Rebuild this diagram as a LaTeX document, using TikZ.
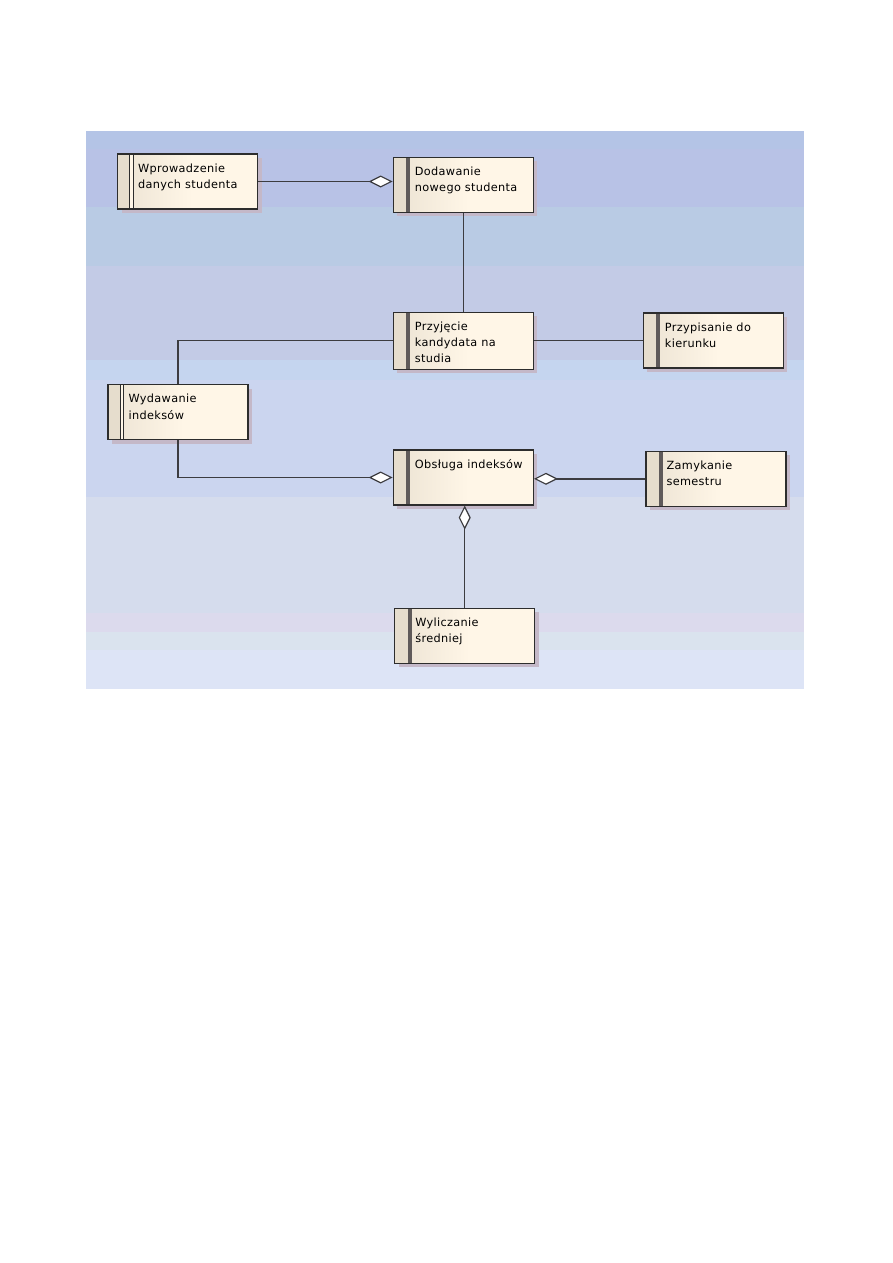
\documentclass[tikz,border=0pt]{standalone}
\usepackage{fontspec}
\setmainfont{DejaVu Sans}
\newfontfamily\procfont[LetterSpace=3]{DejaVu Sans}
\usetikzlibrary{arrows.meta,shadows}

% background bands (top to bottom)
\definecolor{bandA}{RGB}{180,196,230}
\definecolor{bandB}{RGB}{184,194,230}
\definecolor{bandC}{RGB}{185,203,228}
\definecolor{bandD}{RGB}{195,203,230}
\definecolor{bandE}{RGB}{197,213,239}
\definecolor{bandF}{RGB}{203,213,239}
\definecolor{bandG}{RGB}{213,220,237}
\definecolor{bandH}{RGB}{220,218,237}
\definecolor{bandI}{RGB}{218,227,238}
\definecolor{bandJ}{RGB}{221,228,246}
% process boxes
\definecolor{procfill}{RGB}{255,246,231}
\definecolor{procstrip}{RGB}{230,221,205}
\definecolor{procbar}{RGB}{95,90,90}
\definecolor{procline}{RGB}{45,45,45}
\definecolor{procshadow}{RGB}{196,184,200}
\definecolor{linkc}{RGB}{60,60,64}

\begin{document}
\begin{tikzpicture}[x=1pt, y=-1pt,
    proc/.style={draw=procline, line width=1.2pt, fill=procfill,
        minimum width=140pt, minimum height=55pt, inner sep=0pt,
        drop shadow={shadow xshift=4pt, shadow yshift=-4pt, fill=procshadow, opacity=1}},
    barproc/.style={proc, path picture={
        \fill[procstrip] (path picture bounding box.north west) rectangle ([xshift=13pt]path picture bounding box.south west);
        \shade[left color=procstrip!60!procfill, right color=procfill] ([xshift=17pt]path picture bounding box.north west) rectangle ([xshift=75pt]path picture bounding box.south west);
        \fill[procbar] ([xshift=13pt]path picture bounding box.north west) rectangle ([xshift=17pt]path picture bounding box.south west);
    }},
    dblproc/.style={proc, path picture={
        \fill[procstrip] (path picture bounding box.north west) rectangle ([xshift=12pt]path picture bounding box.south west);
        \shade[left color=procstrip!60!procfill, right color=procfill] ([xshift=15.5pt]path picture bounding box.north west) rectangle ([xshift=75pt]path picture bounding box.south west);
        \draw[procline, line width=1pt] ([xshift=12pt]path picture bounding box.north west) -- ([xshift=12pt]path picture bounding box.south west);
        \draw[procline, line width=1pt] ([xshift=15.5pt]path picture bounding box.north west) -- ([xshift=15.5pt]path picture bounding box.south west);
    }},
    proctext/.style={anchor=north west, inner sep=0pt, align=left, font=\procfont\fontsize{11.3}{16.3}\selectfont},
    link/.style={draw=linkc, line width=1.4pt},
    aggr/.style={link, -{Diamond[length=24pt, width=12pt, fill=white, line width=1.2pt]}}]

    \useasboundingbox (0,0) rectangle (893,1263);
    \fill[white] (0,0) rectangle (893,1263);

    % --- BACKGROUND ---
    \fill[bandA] (86,131) rectangle (804,149);
    \fill[bandB] (86,149) rectangle (804,207);
    \fill[bandC] (86,207) rectangle (804,266);
    \fill[bandD] (86,266) rectangle (804,360);
    \fill[bandE] (86,360) rectangle (804,380);
    \fill[bandF] (86,380) rectangle (804,497);
    \fill[bandG] (86,497) rectangle (804,613);
    \fill[bandH] (86,613) rectangle (804,632);
    \fill[bandI] (86,632) rectangle (804,650);
    \fill[bandJ] (86,650) rectangle (804,689);

    % --- PROCESSES ---
    \node[dblproc] (wpr) at (187.5,181.5) {};
    \node[proctext] (wpr-t) at ([xshift=21pt, yshift=-10pt]wpr.north west) {Wprowadzenie\\danych studenta};

    \node[barproc] (dod) at (463.3,184.6) {};
    \node[proctext] (dod-t) at ([xshift=22pt, yshift=-10pt]dod.north west) {Dodawanie\\nowego studenta};

    \node[barproc, minimum height=57pt] (prz) at (463.3,340.7) {};
    \node[proctext] (prz-t) at ([xshift=22pt, yshift=-10pt]prz.north west) {Przyjęcie\\kandydata na\\studia};

    \node[barproc] (kie) at (713.3,340.5) {};
    \node[proctext] (kie-t) at ([xshift=22pt, yshift=-10pt]kie.north west) {Przypisanie do\\kierunku};

    \node[dblproc] (wyd) at (178,412.3) {};
    \node[proctext] (wyd-t) at ([xshift=21pt, yshift=-10pt]wyd.north west) {Wydawanie\\indeksów};

    \node[barproc] (obs) at (463.3,477.5) {};
    \node[proctext] (obs-t) at ([xshift=22pt, yshift=-10pt]obs.north west) {Obsługa indeksów};

    \node[barproc] (zam) at (716,478.8) {};
    \node[proctext] (zam-t) at ([xshift=21pt, yshift=-10pt]zam.north west) {Zamykanie\\semestru};

    \node[barproc] (sre) at (464.7,635.8) {};
    \node[proctext] (sre-t) at ([xshift=21pt, yshift=-10pt]sre.north west) {Wyliczanie\\średniej};

    % --- CONNECTIONS ---
    \draw[aggr] (wpr.east) -- (wpr.east -| dod.west);
    \draw[link] (dod.south) -- (dod.south |- prz.north);
    \draw[link] (prz.west) -| (wyd.north);
    \draw[link] (prz.east) -- (prz.east -| kie.west);
    \draw[aggr] (wyd.south) |- (obs.west);
    \draw[aggr] (zam.west) -- (zam.west -| obs.east);
    \draw[aggr] (sre.north) -- (sre.north |- obs.south);
\end{tikzpicture}
\end{document}
